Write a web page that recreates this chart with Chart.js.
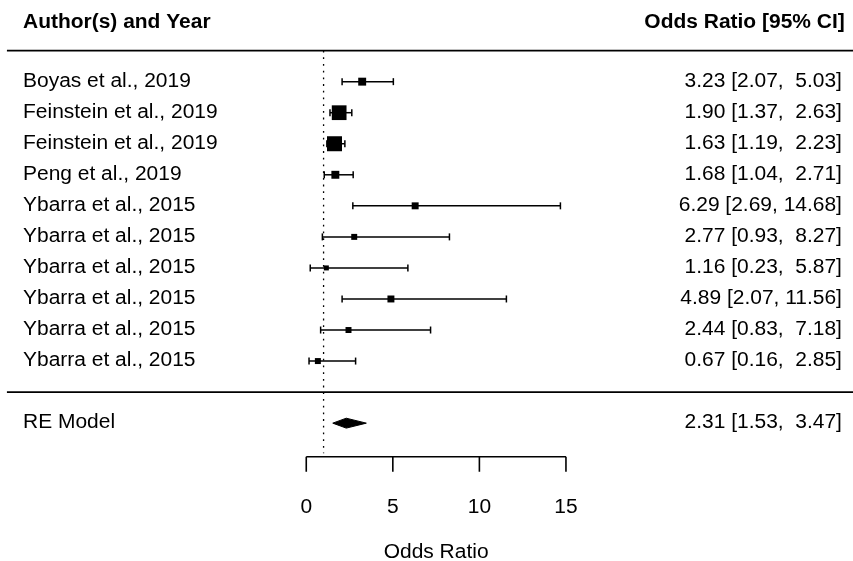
<!DOCTYPE html>
<html>
<head>
<meta charset="utf-8">
<script src="https://cdn.jsdelivr.net/npm/chart.js@4.4.1/dist/chart.umd.min.js"></script>
<style>
    html, body { margin: 0; padding: 0; background: #ffffff; }
    #wrap { width: 853px; height: 561px; }
</style>
</head>
<body>
<div id="wrap"><canvas id="forestChart" width="853" height="561"></canvas></div>
<script>
/* ---- Data ---- */
const studies = [
    'Boyas et al., 2019',
    'Feinstein et al., 2019',
    'Feinstein et al., 2019',
    'Peng et al., 2019',
    'Ybarra et al., 2015',
    'Ybarra et al., 2015',
    'Ybarra et al., 2015',
    'Ybarra et al., 2015',
    'Ybarra et al., 2015',
    'Ybarra et al., 2015',
];
const oddsRatio = [3.23, 1.90, 1.63, 1.68, 6.29, 2.77, 1.16, 4.89, 2.44, 0.67];
const ciLower   = [2.07, 1.37, 1.19, 1.04, 2.69, 0.93, 0.23, 2.07, 0.83, 0.16];
const ciUpper   = [5.03, 2.63, 2.23, 2.71, 14.68, 8.27, 5.87, 11.56, 7.18, 2.85];
// relative study weights (%), estimated from the square sizes
const weights   = [9.5, 20.0, 20.4, 9.5, 8.0, 6.5, 5.0, 8.0, 6.5, 6.5];

const summaryLabel = 'RE Model';
const summaryEstimate = 2.31;
const summaryLower = 1.53;
const summaryUpper = 3.47;

const xTicks = [0, 5, 10, 15];
const refValue = 1;
const headerLeft = 'Author(s) and Year';
const headerRight = 'Odds Ratio [95% CI]';
const axisTitle = 'Odds Ratio';

/* ---- Layout (data units, metafor style) ---- */
const K = studies.length;
const X_MIN = -17.69, X_MAX = 31.58;       // full canvas width
const Y_MIN = -5.44, Y_MAX = 12.63;        // full canvas height
const X_TEXT_LEFT = -16.36;
const X_TEXT_RIGHT = 30.94;
const X_HEADER_RIGHT = 31.1;
const X_LINE_LEFT = -17.29;
const HEADER_ROW = K + 1.9;
const AXIS_ROW = -2.08;
const DIAMOND_HALF = 0.16;
const FONT = "'Liberation Sans', Arial, sans-serif";
const FONT_SIZE = 19.5;
const TEXT_STRETCH = 1.075;

const rows = studies.map((s, i) => K - i);

function fmt(v, width) {
    return v.toFixed(2).padStart(width, ' ');
}
const loWidth = Math.max(...ciLower.map(v => v.toFixed(2).length), summaryLower.toFixed(2).length);
const hiWidth = Math.max(...ciUpper.map(v => v.toFixed(2).length), summaryUpper.toFixed(2).length);
const estWidth = Math.max(...oddsRatio.map(v => v.toFixed(2).length));
function ciText(est, lo, hi) {
    return fmt(est, estWidth) + ' [' + fmt(lo, loWidth) + ', ' + fmt(hi, hiWidth) + ']';
}

// square side 5..15 px, linear in weight (as metafor psize 0.5..1.5)
const wMin = Math.min(...weights), wMax = Math.max(...weights);
const squareRadius = weights.map(w => (5 + 10 * (w - wMin) / (wMax - wMin)) / Math.SQRT2);

/* ---- Datasets ---- */
const datasets = [];

datasets.push({
    label: 'estimates',
    data: oddsRatio.map((v, i) => ({ x: v, y: rows[i] })),
    showLine: false,
    pointStyle: 'rect',
    pointRadius: squareRadius,
    pointBackgroundColor: '#000000',
    pointBorderWidth: 0,
    order: 0,
});

studies.forEach((s, i) => {
    datasets.push({
        label: 'ci' + i,
        data: [{ x: ciLower[i], y: rows[i] }, { x: ciUpper[i], y: rows[i] }],
        showLine: true,
        borderColor: '#000000',
        borderWidth: 1.5,
        pointStyle: 'line',
        pointRotation: 90,
        pointRadius: 3.5,
        pointBorderWidth: 1.5,
        pointBorderColor: '#000000',
        order: 1,
    });
});

datasets.push({
    label: 'summary',
    data: [
        { x: summaryLower, y: -1 },
        { x: summaryEstimate, y: -1 + DIAMOND_HALF },
        { x: summaryUpper, y: -1 },
        { x: summaryEstimate, y: -1 - DIAMOND_HALF },
        { x: summaryLower, y: -1 },
    ],
    showLine: true,
    fill: 'shape',
    backgroundColor: '#000000',
    borderColor: '#000000',
    borderWidth: 1,
    pointRadius: 0,
    tension: 0,
    order: 1,
});

datasets.push({
    label: 'reference',
    data: [{ x: refValue, y: K + 1 }, { x: refValue, y: AXIS_ROW + 0.11 }],
    showLine: true,
    borderColor: '#000000',
    borderWidth: 1.3,
    borderDash: [1.8, 4.9],
    pointRadius: 0,
    order: 2,
});

/* ---- Text, separators and bottom axis ---- */
function drawText(ctx, str, x, y, align) {
    ctx.save();
    ctx.translate(x, y);
    ctx.scale(TEXT_STRETCH, 1);
    ctx.textAlign = align;
    ctx.fillText(str, 0, 0);
    ctx.restore();
}

const forestDecor = {
    id: 'forestDecor',
    afterDatasetsDraw(chart) {
        const ctx = chart.ctx;
        const xs = chart.scales.x, ys = chart.scales.y;
        const px = v => xs.getPixelForValue(v);
        const py = v => ys.getPixelForValue(v);

        ctx.save();
        ctx.strokeStyle = '#000000';
        ctx.fillStyle = '#000000';
        ctx.textBaseline = 'alphabetic';

        // separator lines
        ctx.lineWidth = 1.8;
        [K + 1, 0].forEach(r => {
            ctx.beginPath();
            ctx.moveTo(px(X_LINE_LEFT), py(r));
            ctx.lineTo(px(X_MAX), py(r));
            ctx.stroke();
        });

        // headers
        ctx.font = 'bold ' + FONT_SIZE + 'px ' + FONT;
        drawText(ctx, headerLeft, px(X_TEXT_LEFT), py(HEADER_ROW) + 5, 'left');
        drawText(ctx, headerRight, px(X_HEADER_RIGHT), py(HEADER_ROW) + 5, 'right');

        // study rows
        ctx.font = FONT_SIZE + 'px ' + FONT;
        studies.forEach((s, i) => {
            const y = py(rows[i]) + 5;
            drawText(ctx, s, px(X_TEXT_LEFT), y, 'left');
            drawText(ctx, ciText(oddsRatio[i], ciLower[i], ciUpper[i]), px(X_TEXT_RIGHT), y, 'right');
        });

        // summary row
        drawText(ctx, summaryLabel, px(X_TEXT_LEFT), py(-1) + 4.5, 'left');
        drawText(ctx, ciText(summaryEstimate, summaryLower, summaryUpper), px(X_TEXT_RIGHT), py(-1) + 4.5, 'right');

        // bottom axis
        const yAxis = py(AXIS_ROW);
        ctx.lineWidth = 1.6;
        ctx.beginPath();
        ctx.moveTo(px(xTicks[0]), yAxis);
        ctx.lineTo(px(xTicks[xTicks.length - 1]), yAxis);
        xTicks.forEach(t => {
            ctx.moveTo(px(t), yAxis);
            ctx.lineTo(px(t), yAxis + 15);
        });
        ctx.stroke();

        xTicks.forEach(t => {
            drawText(ctx, String(t), px(t), yAxis + 56, 'center');
        });
        drawText(ctx, axisTitle, px((xTicks[0] + xTicks[xTicks.length - 1]) / 2), yAxis + 101, 'center');

        ctx.restore();
    }
};

new Chart(document.getElementById('forestChart'), {
    type: 'scatter',
    data: { datasets: datasets },
    options: {
        responsive: false,
        animation: false,
        devicePixelRatio: 1,
        events: [],
        layout: { padding: 0, autoPadding: false },
        plugins: {
            legend: { display: false },
            tooltip: { enabled: false },
        },
        scales: {
            x: { type: 'linear', min: X_MIN, max: X_MAX, display: false },
            y: { type: 'linear', min: Y_MIN, max: Y_MAX, display: false },
        },
    },
    plugins: [forestDecor],
});
</script>
</body>
</html>
